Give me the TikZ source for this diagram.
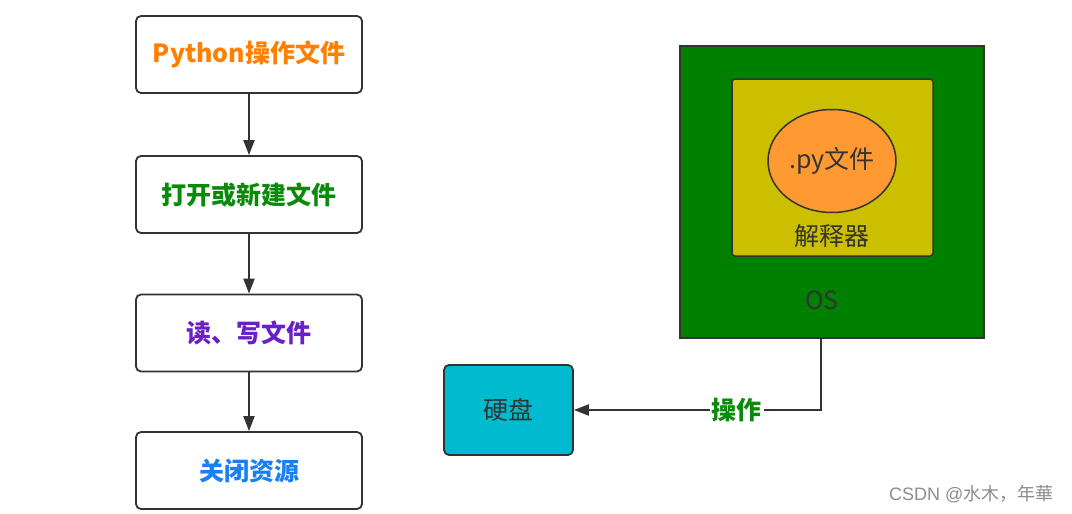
\documentclass[tikz,border=0pt]{standalone}
\usepackage{fontspec}
\setmainfont{Liberation Sans}
\newfontfamily\cjk{Noto Sans CJK SC}
\usetikzlibrary{arrows.meta,shapes.geometric}
\definecolor{dk}{HTML}{333333}
\definecolor{torange}{HTML}{FF8000}
\definecolor{tgreen}{HTML}{0A8A0A}
\definecolor{tpurple}{HTML}{6A1FC9}
\definecolor{tblue}{HTML}{1A7FF0}
\definecolor{osgreen}{HTML}{008000}
\definecolor{interp}{HTML}{CCBF00}
\definecolor{pyorange}{HTML}{FF9A33}
\definecolor{disk}{HTML}{00BAD0}
\begin{document}
\begin{tikzpicture}[x=1pt,y=-1pt,
  flowbox/.style={draw=dk,line width=1.8pt,rounded corners=5pt,fill=white,minimum width=226pt,minimum height=77pt,inner sep=0pt,font=\cjk\bfseries\fontsize{25}{30}\selectfont},
  conn/.style={draw=dk,line width=2pt,-{Triangle[length=15pt,width=11pt]}},
  lbl/.style={font=\cjk\fontsize{25}{30}\selectfont,text=dk}
]
\useasboundingbox (0,0) rectangle (1072,514);
% left flow
\node[flowbox,text=torange] (b1) at (249,54.5) {Python操作文件};
\node[flowbox,text=tgreen] (b2) at (249,194.5) {打开或新建文件};
\node[flowbox,text=tpurple] (b3) at (249,333) {读、写文件};
\node[flowbox,text=tblue] (b4) at (249,470.5) {关闭资源};
\draw[conn] (b1) -- (b2);
\draw[conn] (b2) -- (b3);
\draw[conn] (b3) -- (b4);
% right side
\node[draw=dk,line width=1.5pt,fill=osgreen,minimum width=304pt,minimum height=292pt,inner sep=0pt] (os) at (832,192) {};
\node[lbl] (oslbl) at (822,300) {OS};
\node[draw=dk,line width=1.5pt,fill=interp,rounded corners=3pt,minimum width=201pt,minimum height=177pt,inner sep=0pt] (interp) at (832.5,167.5) {};
\node[lbl] (interplbl) at (832,236) {解释器};
\node[ellipse,draw=dk,line width=1.5pt,fill=pyorange,minimum width=128pt,minimum height=103pt,inner sep=0pt,lbl] (py) at (832,161) {.py文件};
\node[draw=dk,line width=1.8pt,fill=disk,rounded corners=5pt,minimum width=129pt,minimum height=90pt,inner sep=0pt,lbl] (disk) at (508.5,410) {硬盘};
\coordinate (corner) at (821,410);
\draw[conn] (os.south -| corner) -- (corner) -- (disk.east)
  node[pos=0.34,fill=white,inner sep=2pt,text=tgreen,font=\cjk\bfseries\fontsize{25}{30}\selectfont] (op) {操作};
% watermark
\node[anchor=east,text=black!45,font=\fontsize{18}{21}\selectfont] (wm) at (1057,494) {CSDN @{\cjk 水木，年華}};
\end{tikzpicture}
\end{document}
